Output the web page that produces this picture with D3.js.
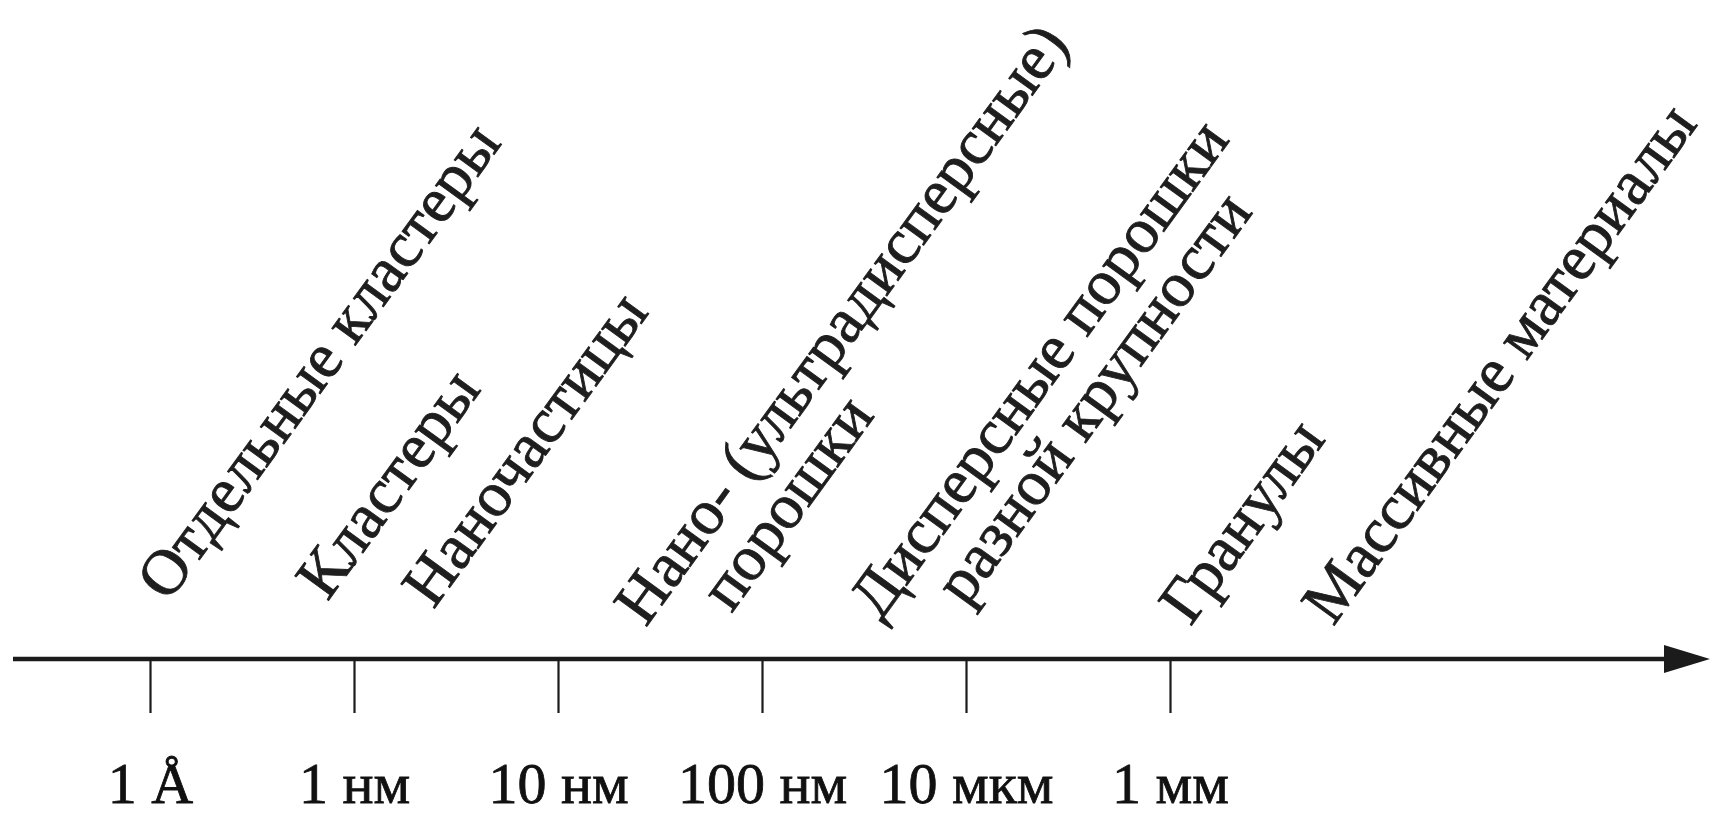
<!DOCTYPE html>
<html>
<head>
<meta charset="utf-8">
<script src="https://cdn.jsdelivr.net/npm/d3@7"></script>
<style>
  html, body { margin: 0; padding: 0; background: #fff; overflow: hidden; }
  svg { display: block; }
</style>
</head>
<body>
<svg id="chart" width="1711" height="816"></svg>
<script>
// ---- data ----
const tickLabels = ["1 Å", "1 нм", "10 нм", "100 нм", "10 мкм", "1 мм"];
const tickIndex = [0, 1, 2, 3, 4, 5];
const categoryLines = [
  ["Отдельные кластеры"],
  ["Кластеры"],
  ["Наночастицы"],
  ["Нано- (ультрадисперсные)", "порошки"],
  ["Дисперсные порошки", "разной крупности"],
  ["Гранулы"],
  ["Массивные материалы"]
];
const categoryPos = [0.09, 0.87, 1.39, 2.43, 3.58, 5.1, 5.8];

// ---- layout ----
const axisY = 659;
const labelLift = [56, 57, 49, 31, 37, 32, 32];  // baseline height above axis
const angle = -54;
const lineH = 61, indent = 62;
const serif = "'Liberation Serif', 'Times New Roman', serif";

const svg = d3.select("#chart");
const x = d3.scaleLinear().domain([0, 5]).range([150, 1170]);

// main axis line with arrow
svg.append("line")
  .attr("x1", 13).attr("x2", 1668)
  .attr("y1", axisY).attr("y2", axisY)
  .attr("stroke", "#1b1b1b").attr("stroke-width", 4.5);
svg.append("path")
  .attr("d", `M1664,${axisY - 14} L1710,${axisY} L1664,${axisY + 14} Z`)
  .attr("fill", "#1b1b1b");

// ticks and tick labels
const axis = d3.axisBottom(x)
  .tickValues(tickIndex)
  .tickSize(54)
  .tickFormat(i => tickLabels[i]);
const gAxis = svg.append("g")
  .attr("transform", `translate(0,${axisY})`)
  .call(axis);
gAxis.select(".domain").remove();
gAxis.selectAll(".tick line")
  .attr("stroke", "#1b1b1b").attr("stroke-width", 2.2);
gAxis.selectAll(".tick text")
  .attr("y", 144).attr("dy", 0)
  .attr("fill", "#111")
  .attr("stroke", "#111").attr("stroke-width", 0.8)
  .style("font-family", serif)
  .style("font-size", "58px");

// rotated category labels
const gLab = svg.append("g");
categoryLines.forEach((lines, i) => {
  const t = gLab.append("text")
    .attr("transform", `translate(${x(categoryPos[i])},${axisY - labelLift[i]}) rotate(${angle})`)
    .attr("fill", "#1e1e1e")
    .attr("stroke", "#1e1e1e").attr("stroke-width", 0.9)
    .style("font-family", serif)
    .style("font-size", "64px");
  lines.forEach((ln, j) => {
    t.append("tspan")
      .attr("x", j * indent)
      .attr("y", j * lineH)
      .text(ln);
  });
});
</script>
</body>
</html>
